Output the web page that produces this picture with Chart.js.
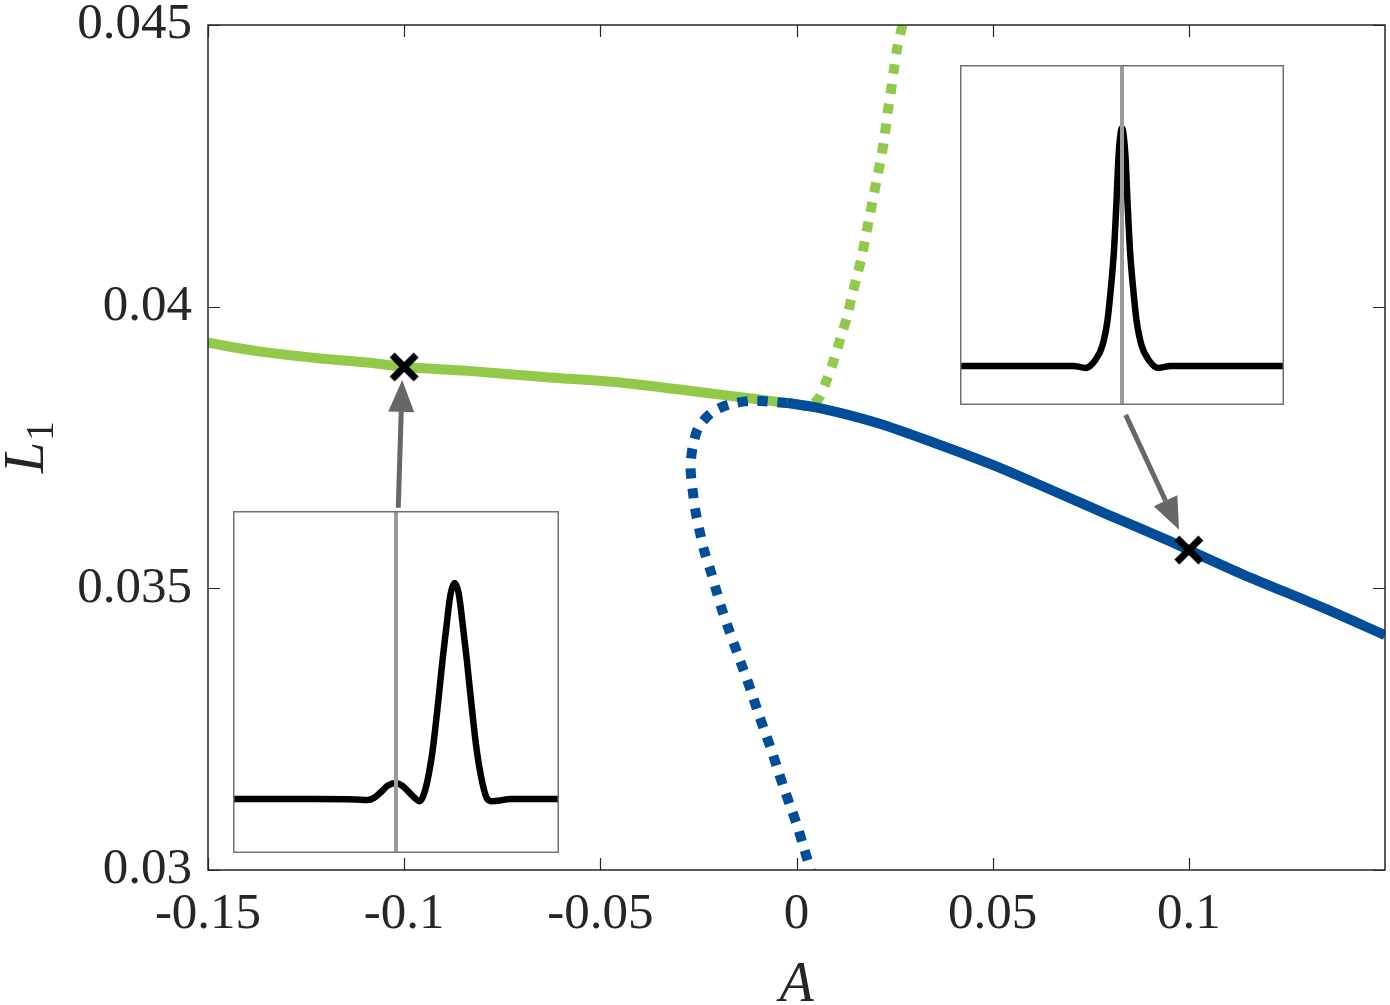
<!DOCTYPE html>
<html>
<head>
<meta charset="utf-8">
<script src="https://cdn.jsdelivr.net/npm/chart.js@4.4.0/dist/chart.umd.min.js"></script>
<style>
  body { margin: 0; background: #fff; }
  #wrap { position: relative; width: 1390px; height: 1005px; }
  .inset { position: absolute; background: #fff; }
  canvas { display: block; }
</style>
</head>
<body>
<div id="wrap">
  <canvas id="main" width="1390" height="1005"></canvas>
  <div class="inset" style="left:233px;top:511px;width:326px;height:342px"><canvas id="ins1" width="326" height="342"></canvas></div>
  <div class="inset" style="left:960px;top:65px;width:324px;height:340px"><canvas id="ins2" width="324" height="340"></canvas></div>
</div>
<script>
// main branches (A, L1)
const greenSolidA = [-0.15, -0.1375, -0.1227, -0.1082, -0.1, -0.0837, -0.0643, -0.0446, -0.0253, -0.0105, 0.0];
const greenSolidL = [0.03936, 0.03921, 0.03909, 0.03900, 0.03893, 0.03886, 0.03875, 0.03865, 0.03849, 0.03836, 0.03827];

const greenDotA = [0.0, 0.0035, 0.0059, 0.0079, 0.0097, 0.0112, 0.0128, 0.0140, 0.0153, 0.0166, 0.0176, 0.0186, 0.0196, 0.0207, 0.0217, 0.0225, 0.0232, 0.0240, 0.0247, 0.0258, 0.0270];
const greenDotL = [0.03827, 0.03822, 0.03840, 0.03873, 0.03909, 0.03944, 0.03980, 0.04015, 0.04051, 0.04088, 0.04124, 0.04159, 0.04195, 0.04234, 0.04269, 0.04305, 0.04344, 0.04379, 0.04415, 0.04465, 0.04500];

const blueSolidA = [-0.0023, 0.0059, 0.0204, 0.0352, 0.05, 0.0648, 0.0796, 0.0944, 0.1, 0.1140, 0.1337, 0.15];
const blueSolidL = [0.03829, 0.03820, 0.03794, 0.03758, 0.03719, 0.03675, 0.03630, 0.03586, 0.03568, 0.03524, 0.03467, 0.03417];

const blueDotA = [-0.0023, -0.0059, -0.0112, -0.0168, -0.0214, -0.0250, -0.0265, -0.0270, -0.0265, -0.0258, -0.0247, -0.0235, -0.0219, -0.0204, -0.0189, -0.0171, -0.0153, -0.0135, -0.0117, -0.0100, -0.0084, -0.0066, -0.0049, -0.0033, -0.0015, 0.0003, 0.0018, 0.0038];
const blueDotL = [0.03829, 0.03831, 0.03833, 0.03827, 0.03813, 0.03785, 0.03749, 0.03714, 0.03676, 0.03639, 0.03602, 0.03566, 0.03531, 0.03495, 0.03460, 0.03424, 0.03389, 0.03355, 0.03320, 0.03284, 0.03252, 0.03217, 0.03181, 0.03147, 0.03112, 0.03076, 0.03041, 0.02996];

const markA = [-0.1, 0.1];
const markL = [0.03893, 0.03568];

const xTicks = [-0.15, -0.1, -0.05, 0, 0.05, 0.1];
const xTickLabels = ['-0.15', '-0.1', '-0.05', '0', '0.05', '0.1'];
const yTicks = [0.03, 0.035, 0.04, 0.045];
const yTickLabels = ['0.03', '0.035', '0.04', '0.045'];

// profiles shown in the two insets
const ins1X = [-20, -10, -5, -3.5, -2.7, -1.9, -1.0, 0, 0.8, 1.5, 2.2, 2.9, 3.3, 3.8, 4.5, 5.2, 5.7, 6.1, 6.7, 7.2, 7.7, 8.3, 8.7, 9.2, 9.9, 10.6, 11.2, 11.8, 12.6, 14, 20];
const ins1Y = [0, 0, -0.002, -0.005, 0.005, 0.03, 0.062, 0.074, 0.06, 0.035, 0.008, -0.01, 0.01, 0.074, 0.227, 0.458, 0.64, 0.77, 0.95, 1.0, 0.95, 0.77, 0.64, 0.458, 0.227, 0.074, 0.0, -0.01, -0.008, 0, 0];

const ins2X = [-20, -10, -6, -4.5, -3.3, -2.4, -1.8, -1.42, -1.0, -0.72, -0.43, -0.2, 0, 0.2, 0.43, 0.72, 1.0, 1.42, 1.8, 2.4, 3.3, 4.5, 6, 10, 20];
const ins2Y = [0, 0, 0, -0.008, 0.025, 0.088, 0.19, 0.31, 0.48, 0.66, 0.88, 0.97, 1.0, 0.97, 0.88, 0.66, 0.48, 0.31, 0.19, 0.088, 0.025, -0.008, 0, 0, 0];

const GREEN = '#93c94a';
const BLUE = '#004e9a';
const INK = '#262626';
const SERIF = '"Liberation Serif", "Times New Roman", serif';

const pts = (xs, ys) => xs.map((x, i) => ({ x, y: ys[i] }));

// bold x marker, like matlab's 'x' with a thick line
const crossImg = document.createElement('canvas');
crossImg.width = 34;
crossImg.height = 34;
(() => {
  const c = crossImg.getContext('2d');
  c.strokeStyle = '#000';
  c.lineWidth = 7;
  c.beginPath();
  c.moveTo(5, 5); c.lineTo(29, 29);
  c.moveTo(29, 5); c.lineTo(5, 29);
  c.stroke();
})();

const boxPlugin = {
  id: 'box',
  afterDatasetsDraw(chart) {
    const { ctx, chartArea: a, scales: { x, y } } = chart;
    ctx.save();
    // arrows from insets to the marked points
    const arrows = [
      { from: [-0.1015, 0.03643], to: [-0.1005, 0.03870] },
      { from: [0.0839, 0.03808], to: [0.0975, 0.03604] }
    ];
    ctx.strokeStyle = '#676767';
    ctx.fillStyle = '#676767';
    arrows.forEach(ar => {
      const x0 = x.getPixelForValue(ar.from[0]), y0 = y.getPixelForValue(ar.from[1]);
      const x1 = x.getPixelForValue(ar.to[0]), y1 = y.getPixelForValue(ar.to[1]);
      const ang = Math.atan2(y1 - y0, x1 - x0);
      const hl = 32, hw = 13;
      const bx = x1 - Math.cos(ang) * hl, by = y1 - Math.sin(ang) * hl;
      ctx.lineWidth = 5;
      ctx.beginPath();
      ctx.moveTo(x0, y0);
      ctx.lineTo(bx, by);
      ctx.stroke();
      ctx.beginPath();
      ctx.moveTo(x1, y1);
      ctx.lineTo(bx + Math.sin(ang) * hw, by - Math.cos(ang) * hw);
      ctx.lineTo(bx - Math.sin(ang) * hw, by + Math.cos(ang) * hw);
      ctx.closePath();
      ctx.fill();
    });

    // axes box with inward ticks
    ctx.strokeStyle = INK;
    ctx.lineWidth = 1.5;
    ctx.strokeRect(a.left, a.top, a.right - a.left, a.bottom - a.top);
    ctx.lineWidth = 1.2;
    ctx.beginPath();
    xTicks.forEach(v => {
      const px = Math.round(x.getPixelForValue(v)) + 0.5;
      ctx.moveTo(px, a.bottom); ctx.lineTo(px, a.bottom - 12);
      ctx.moveTo(px, a.top); ctx.lineTo(px, a.top + 12);
    });
    yTicks.forEach(v => {
      const py = Math.round(y.getPixelForValue(v)) + 0.5;
      ctx.moveTo(a.left, py); ctx.lineTo(a.left + 12, py);
      ctx.moveTo(a.right, py); ctx.lineTo(a.right - 12, py);
    });
    ctx.stroke();

    // axis titles
    ctx.fillStyle = INK;
    ctx.textBaseline = 'alphabetic';
    ctx.textAlign = 'center';
    ctx.font = 'italic 56px ' + SERIF;
    ctx.fillText('A', (a.left + a.right) / 2, 1001);

    ctx.translate(43, (a.top + a.bottom) / 2);
    ctx.rotate(-Math.PI / 2);
    ctx.textAlign = 'left';
    const wL = ctx.measureText('L').width;
    ctx.font = '40px ' + SERIF;
    const w1 = ctx.measureText('1').width;
    const start = -(wL + w1) / 2;
    ctx.font = 'italic 56px ' + SERIF;
    ctx.fillText('L', start, 0);
    ctx.font = '40px ' + SERIF;
    ctx.fillText('1', start + wL + 1, 10);
    ctx.restore();
  }
};

new Chart(document.getElementById('main'), {
  type: 'scatter',
  data: {
    datasets: [
      {
        data: pts(markA, markL),
        pointStyle: crossImg,
        pointRadius: 17,
        showLine: false
      },
      {
        data: pts(blueDotA, blueDotL),
        showLine: true, borderColor: BLUE, borderWidth: 10, borderDash: [10, 10],
        borderCapStyle: 'butt', pointRadius: 0, tension: 0.3
      },
      {
        data: pts(blueSolidA, blueSolidL),
        showLine: true, borderColor: BLUE, borderWidth: 10, pointRadius: 0, tension: 0.3
      },
      {
        data: pts(greenDotA, greenDotL),
        showLine: true, borderColor: GREEN, borderWidth: 10, borderDash: [10, 10],
        borderCapStyle: 'butt', pointRadius: 0, tension: 0.2
      },
      {
        data: pts(greenSolidA, greenSolidL),
        showLine: true, borderColor: GREEN, borderWidth: 10, pointRadius: 0, tension: 0.3
      }
    ]
  },
  options: {
    responsive: false,
    animation: false,
    events: [],
    layout: { autoPadding: false, padding: { top: 25, right: 5, left: 0, bottom: 0 } },
    plugins: { legend: { display: false }, tooltip: { enabled: false } },
    scales: {
      x: {
        type: 'linear', min: -0.15, max: 0.15,
        afterBuildTicks: ax => { ax.ticks = xTicks.map(v => ({ value: v })); },
        afterFit: ax => { ax.height = 135; ax.paddingLeft = 0; ax.paddingRight = 0; },
        grid: { display: false, drawTicks: false },
        border: { display: false },
        ticks: {
          padding: 14, color: INK, maxRotation: 0, autoSkip: false,
          font: { family: SERIF, size: 51 },
          callback: (v, i) => xTickLabels[i]
        }
      },
      y: {
        min: 0.03, max: 0.045,
        afterBuildTicks: ax => { ax.ticks = yTicks.map(v => ({ value: v })); },
        afterFit: ax => { ax.width = 208; ax.paddingTop = 0; ax.paddingBottom = 0; },
        grid: { display: false, drawTicks: false },
        border: { display: false },
        ticks: {
          padding: 16, color: INK, autoSkip: false,
          font: { family: SERIF, size: 51 },
          callback: (v, i) => yTickLabels[i]
        }
      }
    }
  },
  plugins: [boxPlugin]
});

const framePlugin = {
  id: 'frame',
  afterDraw(chart) {
    const { ctx, width, height } = chart;
    ctx.save();
    ctx.strokeStyle = '#707070';
    ctx.lineWidth = 1.5;
    ctx.strokeRect(0.75, 0.75, width - 1.5, height - 1.5);
    ctx.restore();
  }
};

function makeInset(id, xs, ys, yMin, yMax) {
  new Chart(document.getElementById(id), {
    type: 'scatter',
    data: {
      datasets: [
        {
          data: [{ x: 0, y: yMin }, { x: 0, y: yMax }],
          showLine: true, borderColor: '#9b9b9b', borderWidth: 4, pointRadius: 0
        },
        {
          data: pts(xs, ys),
          showLine: true, borderColor: '#000', borderWidth: 6.5, pointRadius: 0,
          cubicInterpolationMode: 'monotone'
        }
      ]
    },
    options: {
      responsive: false,
      animation: false,
      events: [],
      layout: { autoPadding: false, padding: 0 },
      plugins: { legend: { display: false }, tooltip: { enabled: false } },
      scales: {
        x: { type: 'linear', min: -20, max: 20, display: false },
        y: { min: yMin, max: yMax, display: false }
      }
    },
    plugins: [framePlugin]
  });
}

makeInset('ins1', ins1X, ins1Y, -0.25, 1.333);
makeInset('ins2', ins2X, ins2Y, -0.164, 1.265);
</script>
</body>
</html>
